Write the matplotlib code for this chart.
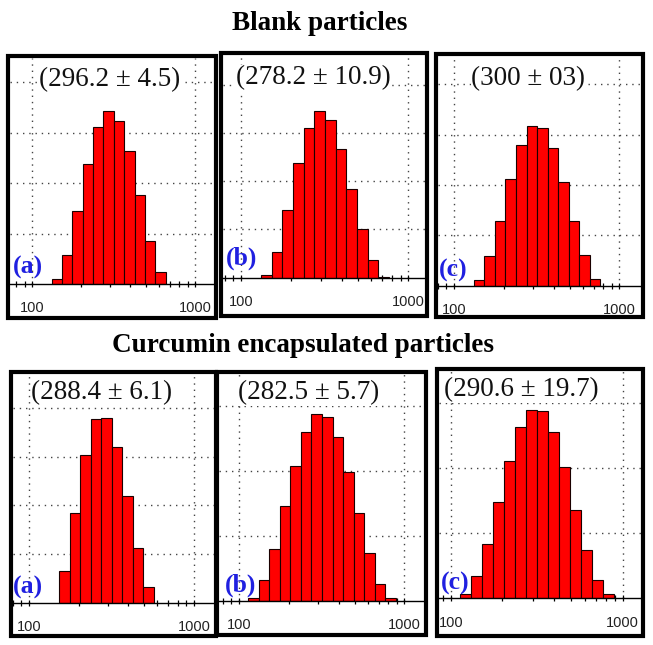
import numpy as np
from matplotlib import pyplot as plt
from matplotlib.patches import Rectangle
from matplotlib.ticker import LogLocator, FuncFormatter, NullFormatter

# bin centres (nm) of the size distribution
sizes = [105.7, 122.4, 141.8, 164.2, 190.1, 220.2, 255.0, 295.3,
         342.0, 396.1, 458.7, 531.2, 615.1, 712.4, 825.0, 955.4]

# intensity (%) per bin
blank_a = [0, 0, 0.5, 2.9, 7.2, 11.9, 15.6, 17.1, 16.2, 13.2, 8.8, 4.3, 1.2, 0, 0, 0]
blank_b = [0, 0, 0.3, 2.7, 7.0, 11.9, 15.5, 17.3, 16.4, 13.4, 9.2, 5.0, 1.8, 0.1, 0, 0]
blank_c = [0, 0, 0.6, 2.9, 6.4, 10.6, 14.0, 15.9, 15.7, 13.7, 10.3, 6.4, 3.0, 0.7, 0, 0]
cur_a = [0, 0, 0, 3.3, 9.2, 15.2, 18.9, 19.0, 16.0, 11.0, 5.6, 1.6, 0, 0, 0, 0]
cur_b = [0, 0.2, 1.6, 4.0, 7.3, 10.4, 13.0, 14.4, 14.2, 12.6, 9.9, 6.8, 3.7, 1.3, 0.2, 0]
cur_c = [0, 0.3, 1.7, 4.2, 7.4, 10.6, 13.2, 14.5, 14.4, 12.8, 10.1, 6.8, 3.7, 1.4, 0.3, 0]

values = ["(296.2 \u00b1 4.5)", "(278.2 \u00b1 10.9)", "(300 \u00b1 03)",
          "(288.4 \u00b1 6.1)", "(282.5 \u00b1 5.7)", "(290.6 \u00b1 19.7)"]
letters = ["(a)", "(b)", "(c)", "(a)", "(b)", "(c)"]
titles = ["Blank particles", "Curcumin encapsulated particles"]

W, H = 653, 645

# layout in pixels: frame box, plot box (x0, x1, top, axis line), limits
layout = [
    dict(frame=(8, 56, 216, 318), plot=(10, 214, 58, 284), xlim=(73.3, 1308), ylim=22.4,
         yt=[5, 10, 15, 20], val=(110, 80), let=(28, 267)),
    dict(frame=(221, 53, 427, 316), plot=(223, 425, 55, 277.7), xlim=(78, 1259), ylim=23.1,
         yt=[5, 10, 15, 20], val=(313, 78), let=(242, 258)),
    dict(frame=(436, 54, 643, 317), plot=(438, 641, 56, 285.7), xlim=(80, 1352), ylim=22.8,
         yt=[5, 10, 15, 20], val=(528, 79), let=(453, 270)),
    dict(frame=(11, 372, 216, 636), plot=(13, 214, 374, 602.7), xlim=(80, 1322), ylim=23.5,
         yt=[5, 10, 15, 20], val=(102, 393), let=(28, 587)),
    dict(frame=(217, 372, 426, 635), plot=(219, 424, 374, 600.7), xlim=(75.7, 1316), ylim=17.5,
         yt=[5, 10, 15], val=(309, 393), let=(241, 585)),
    dict(frame=(437, 369, 643, 636), plot=(439, 641, 371, 598.3), xlim=(85.5, 1278), ylim=17.5,
         yt=[5, 10, 15], val=(521, 390), let=(455, 583)),
]

series = [blank_a, blank_b, blank_c, cur_a, cur_b, cur_c]

# bin edges as geometric midpoints
s = np.array(sizes)
ratio = s[1] / s[0]
edges = np.concatenate([[s[0] / np.sqrt(ratio)], np.sqrt(s[:-1] * s[1:]), [s[-1] * np.sqrt(ratio)]])

fig = plt.figure(figsize=(W / 100, H / 100), dpi=100)

for i, (lay, h) in enumerate(zip(layout, series)):
    fx0, fy0, fx1, fy1 = lay["frame"]
    fig.add_artist(Rectangle((fx0 / W, 1 - fy1 / H), (fx1 - fx0) / W, (fy1 - fy0) / H,
                             transform=fig.transFigure, fill=False, lw=3, ec="black"))
    px0, px1, ptop, pax = lay["plot"]
    ax = fig.add_axes([px0 / W, 1 - pax / H, (px1 - px0) / W, (pax - ptop) / H])
    ax.set_facecolor("none")
    ax.set_xscale("log")
    ax.set_axisbelow(True)

    h = np.array(h)
    m = h > 0
    ax.bar(edges[:-1][m], h[m], width=np.diff(edges)[m], align="edge",
           color="#ff0000", edgecolor="#1a0000", linewidth=0.8, zorder=2)

    ax.set_xlim(*lay["xlim"])
    ax.set_ylim(0, lay["ylim"])
    ax.set_yticks(lay["yt"])
    ax.xaxis.set_major_locator(LogLocator(base=10, numticks=5))
    ax.xaxis.set_minor_locator(LogLocator(base=10, subs=np.arange(2, 10), numticks=20))
    ax.xaxis.set_major_formatter(FuncFormatter(lambda v, p: "%d" % round(v)))
    ax.xaxis.set_minor_formatter(NullFormatter())
    ax.tick_params(axis="y", length=0, labelleft=False)
    ax.tick_params(axis="x", which="both", direction="inout", length=5, width=0.9,
                   colors="black", labelcolor="#222222", labelsize=10.5, pad=10)
    for lab in ax.get_xticklabels():
        lab.set_family("Liberation Sans")
    ax.grid(True, which="major", linestyle=(0, (1, 3.5)), color="#444444", linewidth=1)
    for side in ["top", "left", "right"]:
        ax.spines[side].set_visible(False)
    ax.spines["bottom"].set_linewidth(1)

    vx, vy = lay["val"]
    fig.text(vx / W, 1 - vy / H, values[i], family="Liberation Serif", fontsize=19.5,
             ha="center", va="center", color="#111111",
             bbox=dict(fc="white", ec="none", pad=0))
    lx, ly = lay["let"]
    fig.text(lx / W, 1 - ly / H, letters[i], family="Liberation Serif", fontsize=18.5,
             fontweight="bold", ha="center", va="center", color="#2020e0")

fig.text(320 / W, 1 - 30 / H, titles[0], family="Liberation Serif", fontsize=19.5,
         fontweight="bold", ha="center", va="baseline")
fig.text(303 / W, 1 - 352 / H, titles[1], family="Liberation Serif", fontsize=19.5,
         fontweight="bold", ha="center", va="baseline")

fig.savefig("out.png", dpi=100)
